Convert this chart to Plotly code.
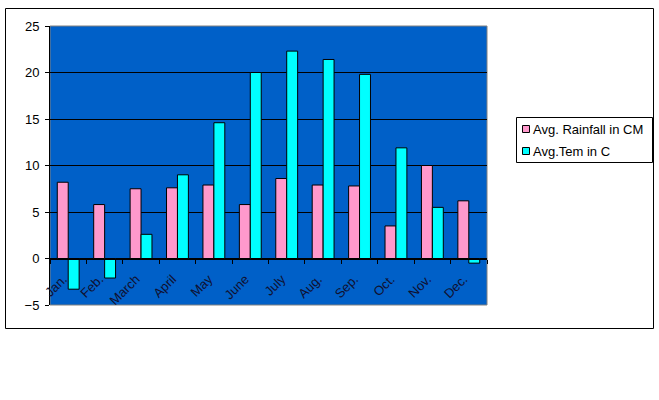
import plotly.graph_objects as go

months = ["Jan.", "Feb.", "March", "April", "May", "June", "July", "Aug.", "Sep.", "Oct.", "Nov.", "Dec."]
rainfall = [8.2, 5.8, 7.5, 7.6, 7.9, 5.8, 8.6, 7.9, 7.8, 3.5, 10.0, 6.2]
temperature = [-3.3, -2.1, 2.6, 9.0, 14.6, 20.0, 22.3, 21.4, 19.8, 11.9, 5.5, -0.5]
series_names = ["Avg. Rainfall in CM", "Avg.Tem in C"]
series_colors = ["#FF99CC", "#00FFFF"]
y_ticks = [-5, 0, 5, 10, 15, 20, 25]

W, H = 659, 400
L, R, T, B = 50, 487, 26, 305
pw, ph = R - L, B - T

def px(x):
    return (x - L) / pw

def py(y):
    return (B - y) / ph

fig = go.Figure()
for name, vals, col in zip(series_names, [rainfall, temperature], series_colors):
    fig.add_trace(go.Bar(x=months, y=vals, name=name, marker=dict(color=col, line=dict(color="black", width=1)),
                         showlegend=False))

font = dict(family="Liberation Sans, Arial, sans-serif", size=13, color="black")

fig.update_layout(
    width=W, height=H,
    margin=dict(l=L, r=W - R, t=T, b=H - B, pad=0),
    paper_bgcolor="white",
    plot_bgcolor="#0060C8",
    barmode="group",
    bargap=0.4,
    bargroupgap=0,
    font=font,
    xaxis=dict(type="category", anchor="free", position=5 / 30, showline=True, linecolor="black", linewidth=1,
               ticks="outside", tickson="boundaries", ticklen=4, tickcolor="black",
               tickangle=-45, showgrid=False, ticklabelstandoff=7, ticklabelshift=-5,
               tickfont=dict(family=font["family"], size=13, color="#101030")),
    yaxis=dict(range=[-5, 25], tickvals=y_ticks, showgrid=True, gridcolor="black", gridwidth=1,
               zeroline=False, showline=True, linecolor="black", ticks="outside", ticklen=4,
               tickcolor="black", tickfont=font, ticklabelstandoff=3),
)

# plot area border
fig.add_shape(type="rect", xref="paper", yref="paper", x0=0, x1=1, y0=0, y1=1,
              line=dict(color="#808080", width=1), layer="below")
# outer chart border
fig.add_shape(type="rect", xref="paper", yref="paper", x0=px(5.5), x1=px(653.5), y0=py(328.5), y1=py(8.5),
              line=dict(color="black", width=1))

# legend box
lx0, lx1, ly0, ly1 = 516.5, 652.5, 117.5, 162.5
fig.add_shape(type="rect", xref="paper", yref="paper", x0=px(lx0), x1=px(lx1), y0=py(ly1), y1=py(ly0),
              line=dict(color="black", width=1), fillcolor="white")
for i, (name, col) in enumerate(zip(series_names, series_colors)):
    cy = 129 + i * 22
    fig.add_shape(type="rect", xref="paper", yref="paper", x0=px(522.5), x1=px(529.5), y0=py(cy + 3.5), y1=py(cy - 3.5),
                  line=dict(color="black", width=1), fillcolor=col)
    fig.add_annotation(xref="paper", yref="paper", x=px(531), y=py(cy), text=name, showarrow=False,
                       xanchor="left", yanchor="middle", font=font)

fig.write_html("out.html", config={"displayModeBar": False},
               post_script="document.body.style.margin='0';document.body.style.overflow='hidden';")
